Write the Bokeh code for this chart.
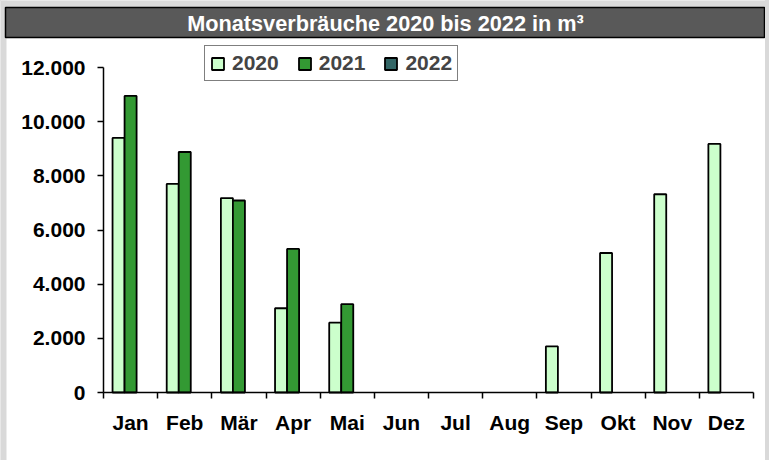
import numpy as np
from bokeh.plotting import figure
from bokeh.models import Range1d, FixedTicker, Label, BoxAnnotation, GlobalInlineStyleSheet
from bokeh.embed import file_html
from bokeh.resources import INLINE

# ---- data ----
months = ["Jan", "Feb", "Mär", "Apr", "Mai", "Jun", "Jul", "Aug", "Sep", "Okt", "Nov", "Dez"]
v2020 = [9400, 7700, 7180, 3110, 2580, None, None, None, 1700, 5150, 7320, 9180]
v2021 = [10950, 8880, 7090, 5300, 3260, None, None, None, None, None, None, None]
v2022 = [None, None, None, None, None, None, None, None, None, None, None, None]
series_names = ["2020", "2021", "2022"]
y_ticks = [0, 2000, 4000, 6000, 8000, 10000, 12000]
y_labels = ["0", "2.000", "4.000", "6.000", "8.000", "10.000", "12.000"]
title_text = "Monatsverbräuche 2020 bis 2022 in m³"

colors = ["#ccffcc", "#339933", "#336666"]
FONT = "Liberation Sans"
GRAY = "#d9d9d9"

# ---- layout geometry (pixels) ----
W, H = 765, 460
AX_L, AX_R, AX_T, AX_B = 103, 753, 67, 392      # axis box in pixels
Y_MAX = y_ticks[-1]
N = len(months)
sx = (AX_R - AX_L) / N          # px per category
sy = (AX_B - AX_T) / Y_MAX      # px per m³


def px(x):
    return (x - AX_L) / sx


def py(y):
    return (AX_B - y) / sy


p = figure(width=W, height=H, output_backend="svg", toolbar_location=None,
           x_range=Range1d(px(0), px(W)), y_range=Range1d(py(H), py(0)),
           min_border=0,
           stylesheets=[GlobalInlineStyleSheet(
               css="html,body{margin:0;padding:0;background:#d9d9d9;overflow:hidden;}")])
p.background_fill_color = "white"
p.border_fill_color = "white"
p.outline_line_color = None
p.grid.visible = False

# bars
xc = np.arange(N) + 0.5
w = 0.222
for i, (vals, name) in enumerate(zip([v2020, v2021, v2022], series_names)):
    top = np.array(vals, dtype=float)
    p.vbar(x=xc + (i - 1) * w, top=top, bottom=0, width=w,
           fill_color=colors[i], line_color="black", line_width=1.8,
           legend_label=name)

# window decoration: gray strips and dark title bar
p.add_layout(BoxAnnotation(left=px(0), right=px(6), top=py(0), bottom=py(H),
                           fill_color=GRAY, fill_alpha=1, line_color=None, level="overlay"))
p.add_layout(BoxAnnotation(left=px(0), right=px(W), top=py(0), bottom=py(7),
                           fill_color=GRAY, fill_alpha=1, line_color=None, level="overlay"))
p.add_layout(BoxAnnotation(left=px(5), right=px(764), top=py(7), bottom=py(37),
                           fill_color="#595959", fill_alpha=1,
                           line_color="black", line_alpha=1, line_width=1.5, level="overlay"))
p.add_layout(Label(x=px(385), y=py(22.5), text=title_text,
                   text_align="center", text_baseline="middle", text_color="white",
                   text_font_size="21.7px", text_font_style="bold", text_font=FONT,
                   level="overlay"))

# x axis: labels at category centres, ticks at category boundaries
xa = p.xaxis[0]
xa.fixed_location = 0
xa.bounds = (0, N)
xa.ticker = FixedTicker(ticks=list(xc), minor_ticks=list(range(N + 1)))
xa.major_label_overrides = {float(x): m for x, m in zip(xc, months)}
xa.major_tick_line_color = None
xa.major_tick_out = 0
xa.major_tick_in = 0
xa.minor_tick_out = 6
xa.minor_tick_in = 0
xa.minor_tick_line_color = "black"
xa.minor_tick_line_width = 1.5
xa.axis_line_color = "black"
xa.axis_line_width = 1.5
xa.major_label_standoff = 12
xa.major_label_text_font = FONT
xa.major_label_text_font_size = "21px"
xa.major_label_text_font_style = "bold"
xa.major_label_text_color = "black"

ya = p.yaxis[0]
ya.fixed_location = 0
ya.bounds = (0, Y_MAX)
ya.ticker = FixedTicker(ticks=y_ticks, minor_ticks=[])
ya.major_label_overrides = {v: s for v, s in zip(y_ticks, y_labels)}
ya.major_tick_out = 6
ya.major_tick_in = 0
ya.major_tick_line_width = 1.5
ya.axis_line_width = 1.5
ya.major_label_standoff = 12
ya.major_label_text_font = FONT
ya.major_label_text_font_size = "21px"
ya.major_label_text_font_style = "bold"
ya.major_label_text_color = "black"

lg = p.legend[0]
lg.orientation = "horizontal"
lg.location = (204, H - 81)
lg.border_line_color = "black"
lg.border_line_width = 1.5
lg.background_fill_color = "white"
lg.background_fill_alpha = 1
lg.padding = 5
lg.margin = 0
lg.spacing = 18
lg.glyph_width = 15
lg.glyph_height = 15
lg.label_standoff = 7
lg.label_height = 20
lg.label_text_font = FONT
lg.label_text_font_size = "21px"
lg.label_text_font_style = "bold"
lg.label_text_baseline = "middle"

open("out.html", "w").write(file_html(p, INLINE))
